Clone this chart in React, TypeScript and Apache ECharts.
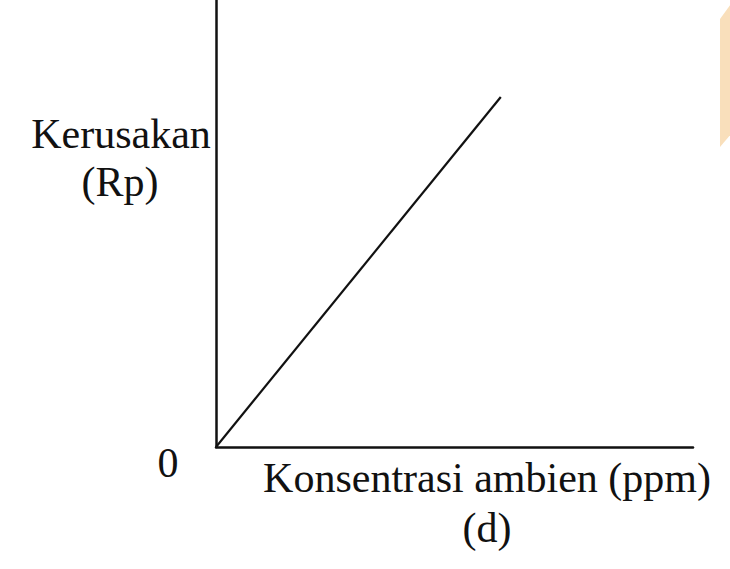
import React, { useEffect, useRef } from "react";
import * as echarts from "echarts";

// Damage (Rp) vs ambient concentration (ppm): straight line from the origin
const lineX: number[] = [0, 59.7];
const lineY: number[] = [0, 78.3];
const yLabelLines: string[] = ["Kerusakan", "(Rp)"];
const xLabelLines: string[] = ["Konsentrasi ambien (ppm)", "(d)"];
const originLabel = "0";

const FONT = "'Liberation Serif', 'Times New Roman', serif";

export default function App() {
  const ref = useRef<HTMLDivElement>(null);
  useEffect(() => {
    if (!ref.current) return;
    const chart = echarts.init(ref.current, undefined, { renderer: "svg" });
    const textStyle = (x: number, y: number, text: string) => ({
      type: "text",
      x,
      y,
      style: {
        text,
        font: `42px ${FONT}`,
        fill: "#111",
        textAlign: "center",
        textVerticalAlign: "middle",
      },
    });
    chart.setOption({
      animation: false,
      backgroundColor: "#ffffff",
      grid: { left: 216, top: 0, width: 477, height: 447, containLabel: false },
      xAxis: {
        type: "value",
        min: 0,
        max: 100,
        axisLine: { show: true, onZero: false, lineStyle: { color: "#111", width: 2.5 } },
        axisTick: { show: false },
        axisLabel: { show: false },
        splitLine: { show: false },
      },
      yAxis: {
        type: "value",
        min: 0,
        max: 100,
        axisLine: { show: true, onZero: false, lineStyle: { color: "#111", width: 2.5 } },
        axisTick: { show: false },
        axisLabel: { show: false },
        splitLine: { show: false },
      },
      series: [
        {
          type: "line",
          data: lineX.map((x, i) => [x, lineY[i]]),
          symbol: "none",
          lineStyle: { color: "#111", width: 2.2 },
        },
      ],
      graphic: [
        {
          type: "polygon",
          shape: { points: [[720, 19], [731, 4], [731, 134], [720, 147]] },
          style: { fill: "#f9dfbb" },
          silent: true,
        },
        textStyle(121, 134, yLabelLines[0]),
        textStyle(120, 182, yLabelLines[1]),
        textStyle(168, 463, originLabel),
        textStyle(487, 478, xLabelLines[0]),
        textStyle(487, 528, xLabelLines[1]),
      ],
    });
    return () => chart.dispose();
  }, []);
  return (
    <div
      ref={ref}
      style={{ position: "fixed", left: 0, top: 0, width: 730, height: 569 }}
    />
  );
}
